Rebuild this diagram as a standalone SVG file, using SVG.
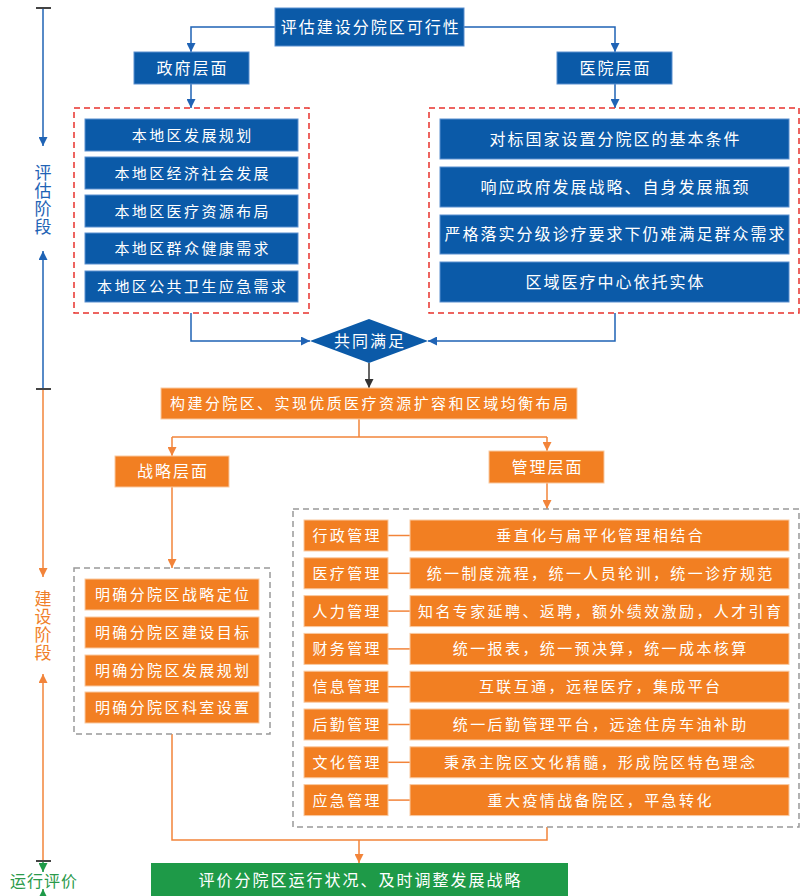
<svg xmlns="http://www.w3.org/2000/svg" width="800" height="896" viewBox="0 0 800 896">
<style>
text{font-family:"Liberation Sans","Noto Sans CJK SC",sans-serif;fill:#fff;text-anchor:middle;dominant-baseline:central}
.b{fill:#0b5aa8;stroke:#5b8fcf;stroke-width:1}
.o{fill:#f27f22;stroke:#f9c9a0;stroke-width:1}
.g{fill:#1e9a48}
.t15{font-size:15px;letter-spacing:2.4px}
.t16{font-size:16px;letter-spacing:2px}
.lb{fill:none;stroke:#1f63b5;stroke-width:1.5}
.lo{fill:none;stroke:#f2843a;stroke-width:1.5}
.lg{fill:none;stroke:#1e9a48;stroke-width:1.5}
.ld{fill:none;stroke:#333;stroke-width:1.5}
.tick{stroke:#444;stroke-width:2}
.rd{fill:none;stroke:#e8322d;stroke-width:1.5;stroke-dasharray:6 4}
.gd{fill:none;stroke:#999;stroke-width:1.5;stroke-dasharray:6 4}
</style>
<defs>
<marker id="ab" viewBox="0 0 10 10" refX="10" refY="5" markerWidth="9" markerHeight="9" markerUnits="userSpaceOnUse" orient="auto"><path d="M0,0L10,5L0,10z" fill="#1f63b5"/></marker>
<marker id="ao" viewBox="0 0 10 10" refX="10" refY="5" markerWidth="9" markerHeight="9" markerUnits="userSpaceOnUse" orient="auto"><path d="M0,0L10,5L0,10z" fill="#f2843a"/></marker>
<marker id="ag" viewBox="0 0 10 10" refX="10" refY="5" markerWidth="9" markerHeight="9" markerUnits="userSpaceOnUse" orient="auto"><path d="M0,0L10,5L0,10z" fill="#1e9a48"/></marker>
<marker id="ad" viewBox="0 0 10 10" refX="10" refY="5" markerWidth="9" markerHeight="9" markerUnits="userSpaceOnUse" orient="auto"><path d="M0,0L10,5L0,10z" fill="#333"/></marker>
</defs>

<!-- timeline -->
<g id="timeline">
<line class="lb" x1="43" y1="8" x2="43" y2="146" marker-end="url(#ab)"/>
<line class="lb" x1="43" y1="389" x2="43" y2="251" marker-end="url(#ab)"/>
<line class="lo" x1="43" y1="389" x2="43" y2="577" marker-end="url(#ao)"/>
<line class="lo" x1="43" y1="861" x2="43" y2="674" marker-end="url(#ao)"/>
<line class="lg" x1="43" y1="861" x2="43" y2="872" marker-end="url(#ag)"/>
<line class="lg" x1="43" y1="896" x2="43" y2="889" marker-end="url(#ag)"/>
<line class="tick" x1="36" y1="8" x2="51" y2="8"/>
<line class="tick" x1="36" y1="389" x2="51" y2="389"/>
<line class="tick" x1="36" y1="861" x2="51" y2="861"/>
<g style="font-size:17px;fill:#1f63b5">
<text x="43" y="173" style="fill:#1f63b5">评</text>
<text x="43" y="191" style="fill:#1f63b5">估</text>
<text x="43" y="209" style="fill:#1f63b5">阶</text>
<text x="43" y="227" style="fill:#1f63b5">段</text>
</g>
<text x="43" y="599" style="fill:#f07f2a;font-size:17px">建</text>
<text x="43" y="617" style="fill:#f07f2a;font-size:17px">设</text>
<text x="43" y="635" style="fill:#f07f2a;font-size:17px">阶</text>
<text x="43" y="653" style="fill:#f07f2a;font-size:17px">段</text>
<text x="44" y="881" style="fill:#2a9a4a;font-size:16px;letter-spacing:1px">运行评价</text>
</g>

<!-- connectors -->
<g id="connectors">
<polyline class="lb" points="275,27 191,27 191,52" marker-end="url(#ab)"/>
<polyline class="lb" points="464,27 615,27 615,52" marker-end="url(#ab)"/>
<line class="lb" x1="191" y1="84" x2="191" y2="108" marker-end="url(#ab)"/>
<line class="lb" x1="615" y1="84" x2="615" y2="108" marker-end="url(#ab)"/>
<polyline class="lb" points="191,313 191,341 310,341" marker-end="url(#ab)"/>
<polyline class="lb" points="615,313 615,341 428,341" marker-end="url(#ab)"/>
<line class="ld" x1="369" y1="363" x2="369" y2="388" marker-end="url(#ad)"/>
<line class="lo" x1="359" y1="419" x2="359" y2="437"/>
<polyline class="lo" points="172,437 547,437"/>
<line class="lo" x1="172" y1="437" x2="172" y2="456" marker-end="url(#ao)"/>
<line class="lo" x1="547" y1="437" x2="547" y2="451" marker-end="url(#ao)"/>
<line class="lo" x1="172" y1="487" x2="172" y2="568" marker-end="url(#ao)"/>
<line class="lo" x1="547" y1="483" x2="547" y2="509" marker-end="url(#ao)"/>
<polyline class="lo" points="172,734 172,840 547,840 547,827"/>
<line class="lo" x1="359" y1="840" x2="359" y2="863" marker-end="url(#ao)"/>
<line class="lo" x1="388" y1="535.5" x2="410" y2="535.5"/>
<line class="lo" x1="388" y1="573.3" x2="410" y2="573.3"/>
<line class="lo" x1="388" y1="611.1" x2="410" y2="611.1"/>
<line class="lo" x1="388" y1="648.9" x2="410" y2="648.9"/>
<line class="lo" x1="388" y1="686.7" x2="410" y2="686.7"/>
<line class="lo" x1="388" y1="724.5" x2="410" y2="724.5"/>
<line class="lo" x1="388" y1="762.3" x2="410" y2="762.3"/>
<line class="lo" x1="388" y1="800.1" x2="410" y2="800.1"/>
</g>

<!-- evaluation stage -->
<g id="n-top"><rect class="b" x="275" y="8" width="189" height="38"/><text class="t16" x="370.8" y="27">评估建设分院区可行性</text></g>
<g id="n-gov"><rect class="b" x="134" y="52" width="115" height="32"/><text class="t16" x="192.5" y="68">政府层面</text></g>
<g id="n-hosp"><rect class="b" x="557" y="52" width="115" height="32"/><text class="t16" x="615.5" y="68">医院层面</text></g>

<g id="g-gov">
<rect class="rd" x="74" y="108" width="235" height="205"/>
<rect class="b" x="85" y="119" width="213" height="32"/><text class="t15" x="192.7" y="135">本地区发展规划</text>
<rect class="b" x="85" y="157" width="213" height="32"/><text class="t15" x="192.7" y="173">本地区经济社会发展</text>
<rect class="b" x="85" y="195" width="213" height="32"/><text class="t15" x="192.7" y="211">本地区医疗资源布局</text>
<rect class="b" x="85" y="233" width="213" height="31"/><text class="t15" x="192.7" y="248.5">本地区群众健康需求</text>
<rect class="b" x="85" y="271" width="213" height="31"/><text class="t15" x="192.7" y="286.5">本地区公共卫生应急需求</text>
</g>

<g id="g-hosp">
<rect class="rd" x="429" y="108" width="370" height="205"/>
<rect class="b" x="440" y="119" width="349" height="40"/><text class="t16" x="615.5" y="139">对标国家设置分院区的基本条件</text>
<rect class="b" x="440" y="167" width="349" height="40"/><text class="t16" x="615.5" y="187">响应政府发展战略、自身发展瓶颈</text>
<rect class="b" x="440" y="215" width="349" height="39"/><text class="t16" x="615.5" y="234.5">严格落实分级诊疗要求下仍难满足群众需求</text>
<rect class="b" x="440" y="262" width="349" height="40"/><text class="t16" x="615.5" y="282">区域医疗中心依托实体</text>
</g>

<g id="n-both"><polygon points="310,341 369,319 428,341 369,363" fill="#0b5aa8"/><text class="t16" x="370" y="341">共同满足</text></g>

<!-- construction stage -->
<g id="n-build"><rect class="o" x="161" y="388" width="416" height="31"/><text class="t15" x="370.2" y="403.5">构建分院区、实现优质医疗资源扩容和区域均衡布局</text></g>
<g id="n-strat"><rect class="o" x="115" y="456" width="114" height="31"/><text class="t16" x="173" y="471.5">战略层面</text></g>
<g id="n-mgmt"><rect class="o" x="489" y="451" width="115" height="32"/><text class="t16" x="547.5" y="467">管理层面</text></g>

<g id="g-strat">
<rect class="gd" x="74" y="568" width="196" height="166"/>
<rect class="o" x="85" y="579" width="174" height="31"/><text class="t15" x="173.2" y="594.5">明确分院区战略定位</text>
<rect class="o" x="85" y="617" width="174" height="31"/><text class="t15" x="173.2" y="632.5">明确分院区建设目标</text>
<rect class="o" x="85" y="655" width="174" height="31"/><text class="t15" x="173.2" y="670.5">明确分院区发展规划</text>
<rect class="o" x="85" y="692" width="174" height="31"/><text class="t15" x="173.2" y="707.5">明确分院区科室设置</text>
</g>

<g id="g-mgmt">
<rect class="gd" x="293" y="509" width="506" height="318"/>
<g id="r1"><rect class="o" x="304" y="520" width="84" height="31"/><text class="t15" x="347.2" y="535.5">行政管理</text><rect class="o" x="410" y="520" width="379" height="31"/><text class="t15" x="600.7" y="535.5">垂直化与扁平化管理相结合</text></g>
<g id="r2"><rect class="o" x="304" y="557.8" width="84" height="31"/><text class="t15" x="347.2" y="573.3">医疗管理</text><rect class="o" x="410" y="557.8" width="379" height="31"/><text class="t15" x="600.7" y="573.3">统一制度流程，统一人员轮训，统一诊疗规范</text></g>
<g id="r3"><rect class="o" x="304" y="595.6" width="84" height="31"/><text class="t15" x="347.2" y="611.1">人力管理</text><rect class="o" x="410" y="595.6" width="379" height="31"/><text class="t15" x="600.7" y="611.1">知名专家延聘、返聘，额外绩效激励，人才引育</text></g>
<g id="r4"><rect class="o" x="304" y="633.4" width="84" height="31"/><text class="t15" x="347.2" y="648.9">财务管理</text><rect class="o" x="410" y="633.4" width="379" height="31"/><text class="t15" x="600.7" y="648.9">统一报表，统一预决算，统一成本核算</text></g>
<g id="r5"><rect class="o" x="304" y="671.2" width="84" height="31"/><text class="t15" x="347.2" y="686.7">信息管理</text><rect class="o" x="410" y="671.2" width="379" height="31"/><text class="t15" x="600.7" y="686.7">互联互通，远程医疗，集成平台</text></g>
<g id="r6"><rect class="o" x="304" y="709" width="84" height="31"/><text class="t15" x="347.2" y="724.5">后勤管理</text><rect class="o" x="410" y="709" width="379" height="31"/><text class="t15" x="600.7" y="724.5">统一后勤管理平台，远途住房车油补助</text></g>
<g id="r7"><rect class="o" x="304" y="746.8" width="84" height="31"/><text class="t15" x="347.2" y="762.3">文化管理</text><rect class="o" x="410" y="746.8" width="379" height="31"/><text class="t15" x="600.7" y="762.3">秉承主院区文化精髓，形成院区特色理念</text></g>
<g id="r8"><rect class="o" x="304" y="784.6" width="84" height="31"/><text class="t15" x="347.2" y="800.1">应急管理</text><rect class="o" x="410" y="784.6" width="379" height="31"/><text class="t15" x="600.7" y="800.1">重大疫情战备院区，平急转化</text></g>
</g>

<!-- operation stage -->
<g id="n-eval"><rect class="g" x="151" y="863" width="417" height="34"/><text class="t16" x="360.5" y="880">评价分院区运行状况、及时调整发展战略</text></g>
</svg>
